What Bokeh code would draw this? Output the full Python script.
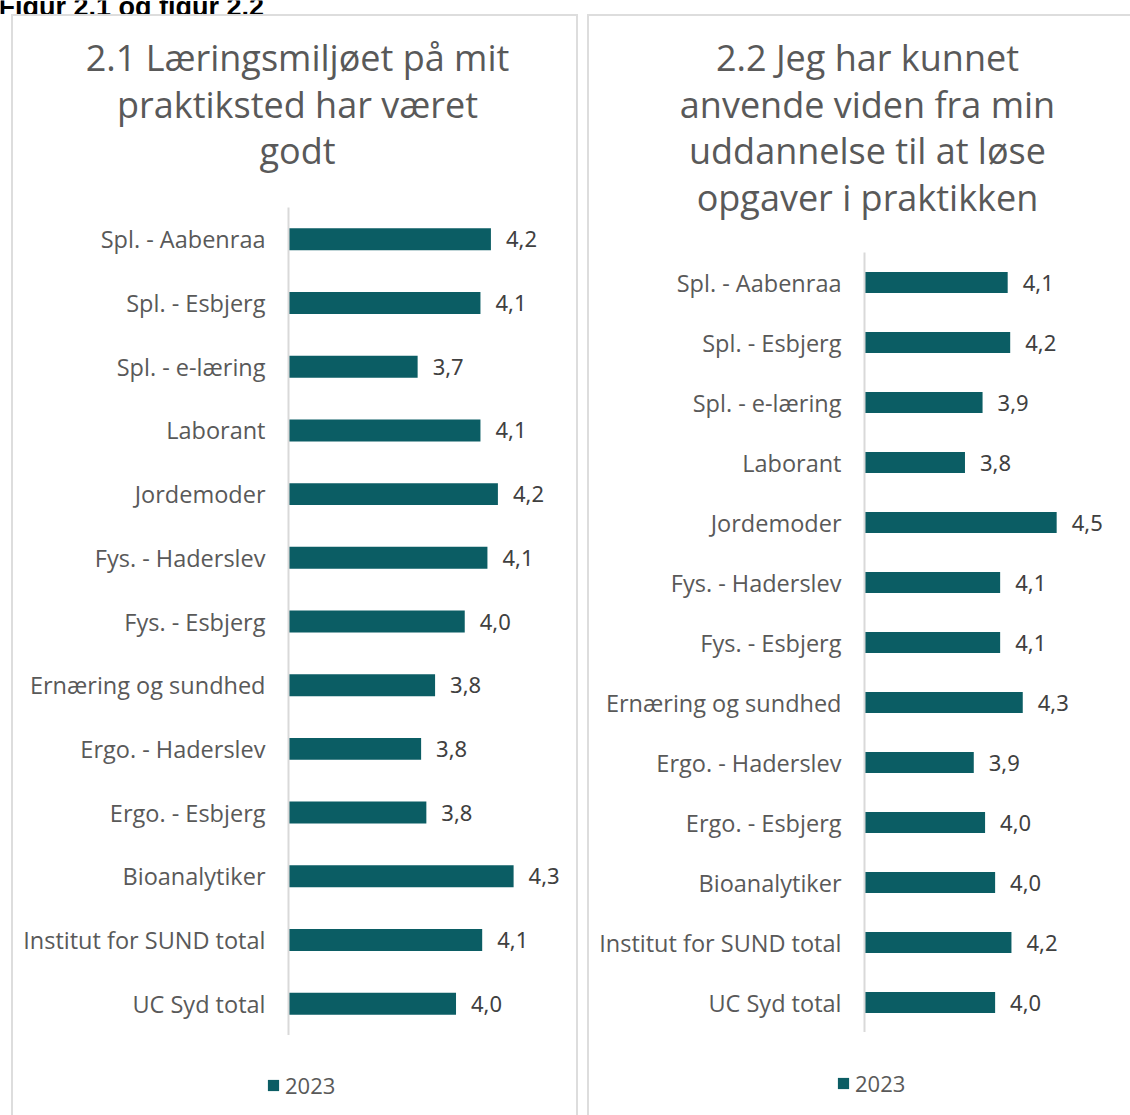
from bokeh.plotting import figure
from bokeh.models import (FactorRange, Range1d, Legend, LegendItem, Spacer,
                          ColumnDataSource, Column, Row)
from bokeh.core.properties import value
from bokeh.embed import file_html
from bokeh.resources import INLINE

# ---------------- data ----------------
heading = "Figur 2.1 og figur 2.2"
series_name = "2023"

categories = ["Spl. - Aabenraa", "Spl. - Esbjerg", "Spl. - e-læring", "Laborant",
              "Jordemoder", "Fys. - Haderslev", "Fys. - Esbjerg", "Ernæring og sundhed",
              "Ergo. - Haderslev", "Ergo. - Esbjerg", "Bioanalytiker",
              "Institut for SUND total", "UC Syd total"]

title_21 = ["2.1 Læringsmiljøet på mit", "praktiksted har været", "godt"]
values_21 = [4.16, 4.10, 3.74, 4.10, 4.20, 4.14, 4.01, 3.84, 3.76, 3.79, 4.29, 4.11, 3.96]

title_22 = ["2.2 Jeg har kunnet", "anvende viden fra min", "uddannelse til at løse", "opgaver i praktikken"]
values_22 = [4.14, 4.16, 3.94, 3.80, 4.53, 4.08, 4.08, 4.26, 3.87, 3.96, 4.04, 4.17, 4.04]

# ---------------- style ----------------
BAR = "#0b5d64"
GREY = "#595959"
DARK = "#404040"
AXIS_MIN = 3
TITLE_FONT = "Open Sans"


def blank_fig(width, height, flip=True):
    f = figure(width=width, height=height, x_range=Range1d(0, width),
               y_range=Range1d(height, 0) if flip else Range1d(0, height),
               min_border=0, toolbar_location=None, output_backend="svg",
               outline_line_color=None)
    f.axis.visible = False
    f.grid.visible = False
    f.background_fill_alpha = 0
    f.border_fill_alpha = 0
    return f


def make_panel(cats, vals, title_lines, width, title_h, chart_h, legend_h,
               frame_left, px_per_unit, bar_h, title_cx, first_baseline,
               legend_loc, shadow):
    # --- title block ---
    t = blank_fig(width, title_h)
    n = len(title_lines)
    t.text(x=[title_cx] * n, y=[first_baseline + i * 46.5 for i in range(n)],
           text=title_lines, text_align="center", text_baseline="alphabetic",
           text_font=value(TITLE_FONT), text_font_size="36px", text_color=GREY)

    # --- bar chart ---
    right_pad = 6
    frame_w = width - frame_left - right_pad
    x_end = AXIS_MIN + frame_w / px_per_unit
    p = figure(width=width, height=chart_h,
               y_range=FactorRange(*reversed(cats)), x_range=Range1d(AXIS_MIN, x_end),
               min_border_left=frame_left, min_border_right=right_pad,
               min_border_top=0, min_border_bottom=0,
               toolbar_location=None, output_backend="svg", outline_line_color=None)
    p.background_fill_alpha = 0
    p.border_fill_alpha = 0

    labels = [f"{v:.1f}".replace(".", ",") for v in vals]
    src = ColumnDataSource(dict(cat=cats, val=vals, lab=labels))
    p.hbar(y="cat", left=AXIS_MIN, right="val", height=bar_h, source=src,
           fill_color=BAR, line_color=None)
    p.text(x="val", y="cat", text="lab", source=src, x_offset=15,
           text_baseline="middle", text_align="left",
           text_font=value("Noto Sans"), text_font_size="22px", text_color=DARK)

    p.xaxis.visible = False
    p.xgrid.visible = False
    p.ygrid.visible = False
    ax = p.yaxis[0]
    ax.axis_line_color = "#d9d9d9"
    ax.axis_line_width = 2
    ax.major_tick_line_color = None
    ax.minor_tick_line_color = None
    ax.major_tick_out = 0
    ax.major_tick_in = 0
    ax.major_label_standoff = 23
    ax.major_label_text_font = "Open Sans"
    ax.major_label_text_font_size = "23.5px"
    ax.major_label_text_color = GREY

    # --- legend block (a hidden proxy renderer carries the series style) ---
    lf = blank_fig(width, legend_h, flip=False)
    proxy_src = ColumnDataSource(dict(cat=[0], val=vals[:1]))
    proxy = lf.hbar(y="cat", left=AXIS_MIN, right="val", height=0.5, source=proxy_src,
                    fill_color=BAR, line_color=None, visible=False)
    leg = Legend(items=[LegendItem(label=series_name, renderers=[proxy])],
                 location=legend_loc, glyph_width=14, glyph_height=14,
                 label_standoff=5, padding=0, margin=0,
                 border_line_alpha=0, background_fill_alpha=0,
                 inactive_fill_alpha=0,
                 label_text_font="Open Sans", label_text_font_size="22px",
                 label_text_color=GREY)
    lf.add_layout(leg)

    # wrap the title and legend blocks so their frames are not aligned with the chart's
    return Column(children=[Row(children=[t]), p, Row(children=[lf])],
                  styles={"box-shadow": shadow})


# left panel: page x 11..578 ; frame 207..1035
col1 = make_panel(categories, values_21, title_21, 567,
                  title_h=193, chart_h=828, legend_h=80,
                  frame_left=277, px_per_unit=174.5, bar_h=0.345,
                  title_cx=286, first_baseline=43, legend_loc=(255, 15),
                  shadow="inset 2px 2px 0 0 #dddddd, inset -2px 0 0 0 #dddddd")
# right panel: page x 587..1130 ; frame 252..1032
col2 = make_panel(categories, values_22, title_22, 543,
                  title_h=238, chart_h=780, legend_h=83,
                  frame_left=277, px_per_unit=125.6, bar_h=0.35,
                  title_cx=280, first_baseline=43, legend_loc=(249, 17),
                  shadow="inset 2px 2px 0 0 #dddddd")

# heading band (cut off at the top edge, as in the source page)
hb = blank_fig(1130, 14)
hb.text(x=[-2], y=[6.5], text=[heading], text_font=value("Liberation Sans"),
        text_font_style="bold", text_font_size="27px", text_baseline="alphabetic",
        text_color="#000000")

layout = Column(children=[hb, Row(children=[Spacer(width=11, height=1101), col1,
                                            Spacer(width=9, height=1101), col2])])

open("out.html", "w").write(file_html(layout, INLINE))
